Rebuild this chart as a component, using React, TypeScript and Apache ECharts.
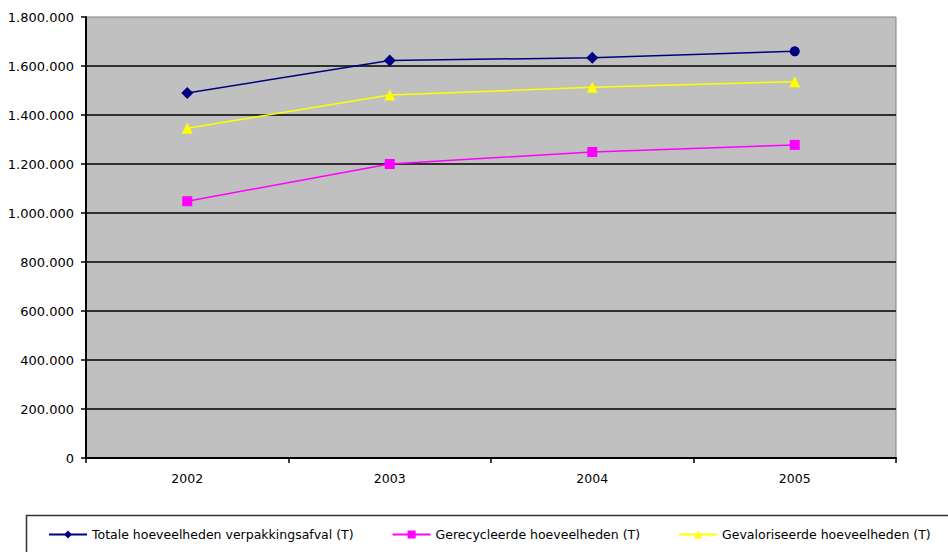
import React, { useEffect, useRef } from "react";
import * as echarts from "echarts";

const years = ["2002", "2003", "2004", "2005"];
const totale = [1490000, 1622000, 1634000, 1660000];
const gerecycleerd = [1048000, 1200000, 1249000, 1278000];
const gevaloriseerd = [1346000, 1482000, 1513000, 1536000];
const seriesNames = [
  "Totale hoeveelheden verpakkingsafval (T)",
  "Gerecycleerde hoeveelheden (T)",
  "Gevaloriseerde hoeveelheden (T)",
];

const fmt = (v: number) => String(v).replace(/\B(?=(\d{3})+(?!\d))/g, ".");

export default function App() {
  const ref = useRef<HTMLDivElement>(null);
  useEffect(() => {
    if (!ref.current) return;
    const chart = echarts.init(ref.current, null, { renderer: "svg" });
    const font = "DejaVu Sans";
    chart.setOption({
      animation: false,
      backgroundColor: "#ffffff",
      textStyle: { fontFamily: font },
      grid: {
        left: 86,
        right: 52,
        top: 17,
        bottom: 94,
        show: true,
        backgroundColor: "#C0C0C0",
        borderColor: "#808080",
        borderWidth: 1,
      },
      graphic: [
        {
          type: "rect",
          left: 24,
          top: 513,
          shape: { width: 940, height: 60 },
          style: { fill: "none", stroke: "#333333", lineWidth: 1.5 },
          silent: true,
        },
      ],
      legend: {
        left: 43,
        top: 523,
        itemWidth: 38,
        itemHeight: 10,
        itemGap: 38,
        textStyle: { fontFamily: font, fontSize: 12.5, color: "#000" },
        data: seriesNames,
      },
      xAxis: {
        type: "category",
        data: years,
        boundaryGap: true,
        axisLine: { lineStyle: { color: "#000", width: 2 } },
        axisTick: { show: true, interval: 0, length: 5, lineStyle: { color: "#000", width: 1.5 } },
        axisLabel: { fontFamily: font, fontSize: 12.5, color: "#000", margin: 14 },
        splitLine: { show: false },
      },
      yAxis: {
        type: "value",
        min: 0,
        max: 1800000,
        interval: 200000,
        axisLine: { show: true, lineStyle: { color: "#000", width: 2 } },
        axisTick: { show: true, length: 5, lineStyle: { color: "#000", width: 1.5 } },
        axisLabel: {
          fontFamily: font,
          fontSize: 13,
          color: "#000",
          margin: 12,
          formatter: (v: number) => fmt(v),
        },
        splitLine: { show: true, showMaxLine: false, lineStyle: { color: "#000", width: 1.5 } },
      },
      series: [
        {
          name: seriesNames[0],
          type: "line",
          data: totale.map((v, i) =>
            i === totale.length - 1 ? { value: v, symbol: "circle", symbolSize: 10 } : v
          ),
          symbol: "diamond",
          symbolSize: 12,
          color: "#000080",
          lineStyle: { color: "#000080", width: 1.5 },
          itemStyle: { color: "#000080" },
        },
        {
          name: seriesNames[1],
          type: "line",
          data: gerecycleerd,
          symbol: "rect",
          symbolSize: 10,
          color: "#FF00FF",
          lineStyle: { color: "#FF00FF", width: 1.5 },
          itemStyle: { color: "#FF00FF" },
        },
        {
          name: seriesNames[2],
          type: "line",
          data: gevaloriseerd,
          symbol: "triangle",
          symbolSize: 11,
          color: "#FFFF00",
          lineStyle: { color: "#FFFF00", width: 1.5 },
          itemStyle: { color: "#FFFF00" },
        },
      ],
    });
    return () => chart.dispose();
  }, []);
  return <div ref={ref} style={{ width: 948, height: 552, position: "absolute", left: 0, top: 0 }} />;
}
